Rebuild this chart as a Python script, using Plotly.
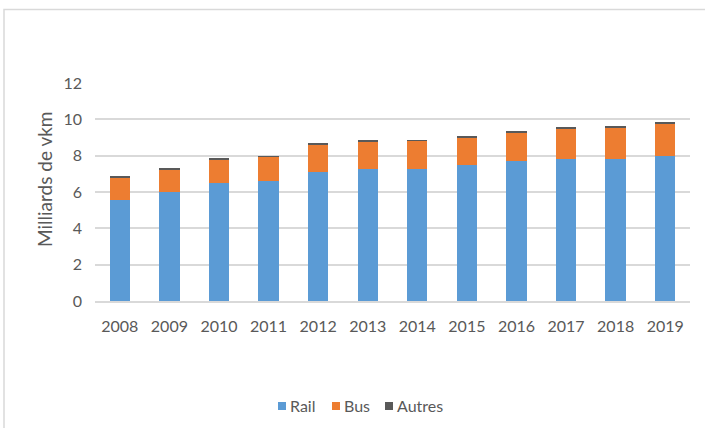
import plotly.graph_objects as go

years = ["2008", "2009", "2010", "2011", "2012", "2013", "2014", "2015", "2016", "2017", "2018", "2019"]
rail = [5.56, 6.02, 6.49, 6.59, 7.12, 7.26, 7.26, 7.47, 7.69, 7.81, 7.81, 8.00]
bus = [1.23, 1.23, 1.29, 1.34, 1.48, 1.51, 1.56, 1.54, 1.57, 1.67, 1.73, 1.76]
autres = [0.05, 0.07, 0.05, 0.05, 0.08, 0.04, 0.04, 0.07, 0.08, 0.08, 0.05, 0.04]
y_ticks = [0, 2, 4, 6, 8, 10, 12]
series_names = ["Rail", "Bus", "Autres"]
series_colors = ["#5B9BD5", "#ED7D31", "#595959"]

FONT = "Lato"
GRAY = "#595959"

# plot area in pixels
L, R, T, B = 95, 690, 83, 301
W, H = 705, 428


def px(x):
    return (x - L) / (R - L)


def py(y):
    return (B - y) / (B - T)


fig = go.Figure()
for name, vals, col in zip(series_names, [rail, bus, autres], series_colors):
    fig.add_bar(x=years, y=vals, name=name, marker=dict(color=col, line=dict(width=0)),
                showlegend=False)

# manual legend (Excel style, compact)
legend_x = [278, 332, 385]
shapes = [dict(type="rect", xref="paper", yref="paper", x0=px(4), x1=px(760), y0=py(480), y1=py(9.5),
               line=dict(color="#D9D9D9", width=1.5), fillcolor="rgba(0,0,0,0)", layer="below")]
annotations = [dict(text="Milliards de vkm", xref="paper", yref="paper", x=px(44), y=py(180),
                    xanchor="center", yanchor="middle", textangle=-90, showarrow=False,
                    font=dict(family=FONT, size=19, color=GRAY))]
for name, col, lx in zip(series_names, series_colors, legend_x):
    shapes.append(dict(type="rect", xref="paper", yref="paper", x0=px(lx), x1=px(lx + 8),
                       y0=py(410), y1=py(402), line=dict(width=0), fillcolor=col))
    annotations.append(dict(text=name, xref="paper", yref="paper", x=px(lx + 10), y=py(405.5),
                            xanchor="left", yanchor="middle", showarrow=False,
                            font=dict(family=FONT, size=16, color=GRAY)))

fig.update_layout(
    barmode="stack",
    bargap=0.59,
    width=W, height=H,
    margin=dict(l=L, r=W - R, t=T, b=H - B, autoexpand=False),
    paper_bgcolor="white", plot_bgcolor="white",
    font=dict(family=FONT, size=15, color=GRAY),
    showlegend=False,
    xaxis=dict(showgrid=False, showline=True, linecolor="#D9D9D9", linewidth=1.5,
               ticks="", ticklabelstandoff=10, tickfont=dict(size=16, color=GRAY)),
    yaxis=dict(range=[0, 12], tickvals=y_ticks, showgrid=True, gridcolor="#D9D9D9", gridwidth=1.5,
               zeroline=False, showline=False, ticks="", ticklabelstandoff=12,
               tickfont=dict(size=16, color=GRAY)),
    annotations=annotations,
    shapes=shapes,
)

fig.write_html("out.html")
